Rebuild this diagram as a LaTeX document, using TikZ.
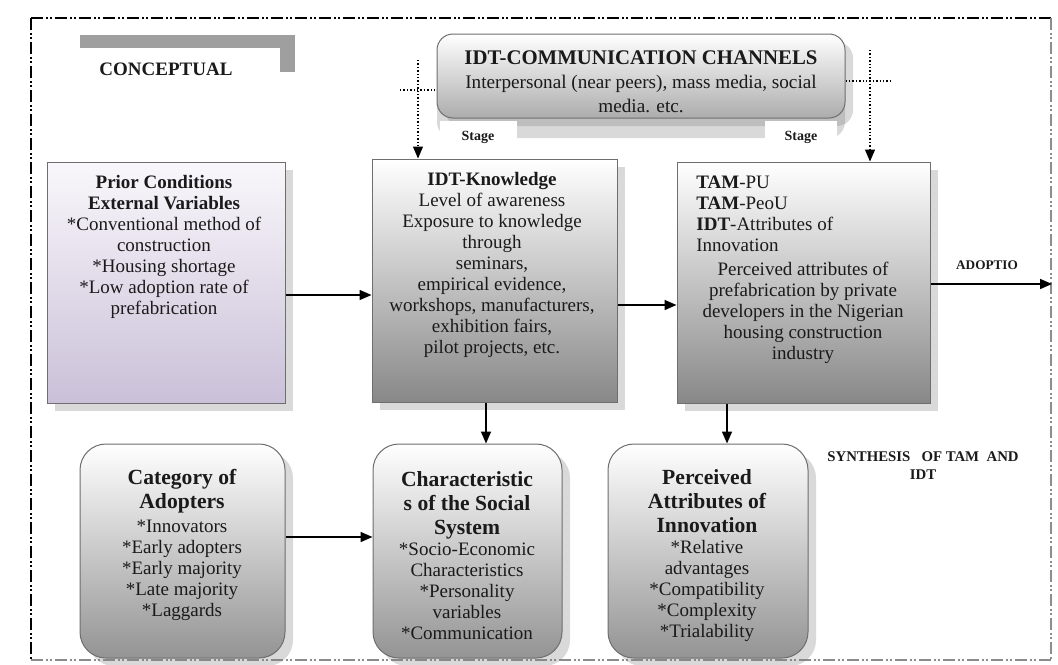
\documentclass[tikz,border=0pt]{standalone}
\usepackage{fontspec}
\setmainfont{Liberation Serif}
\usetikzlibrary{arrows.meta,positioning,shadows,calc}
\definecolor{boxgrey}{RGB}{136,136,136}
\definecolor{rimgrey}{RGB}{110,110,110}
\definecolor{lilac}{RGB}{202,192,216}
\definecolor{lilactop}{RGB}{249,247,251}
\definecolor{inkblack}{RGB}{26,26,26}
\definecolor{framegrey}{RGB}{140,140,140}

\tikzset{
  flatbox/.style={draw=rimgrey, line width=0.5pt, top color=white, bottom color=boxgrey,
    inner sep=0pt, drop shadow={shadow xshift=4pt, shadow yshift=-4pt, opacity=0.3}},
  roundbox/.style={flatbox, rounded corners=13pt, bottom color=boxgrey!90},
  boxtext/.style={align=center, inner sep=0pt, text=inkblack, font=\fontsize{9.5}{10.5}\selectfont},
  smalllbl/.style={inner sep=0pt, text=inkblack, font=\fontsize{7}{9}\selectfont\bfseries},
  arr/.style={->, line width=0.8pt, black},
  dotline/.style={line width=0.7pt, densely dotted, black},
  frameline/.style={line width=0.9pt, dash pattern=on 6pt off 1.5pt on 1pt off 1pt on 1pt off 1.5pt}
}

\begin{document}
\begin{tikzpicture}[x=0.5pt,y=-0.5pt,>={Triangle[length=6pt,width=5pt]}]
  \useasboundingbox (0,0) rectangle (1058,664);
  % Frame
  \draw[frameline] (31,18) -- (1051,18);
  \draw[frameline] (31,18) -- (31,660);
  \draw[frameline,draw=framegrey] (1051,18) -- (1051,660);
  \draw[frameline,draw=framegrey] (31,660) -- (1051,660);

  % Title tab
  \fill[gray!75] (80,35) rectangle (295,72);
  \node[fill=white, minimum width=107.5pt, minimum height=18.5pt, inner sep=0pt,
        font=\fontsize{9.5}{11}\selectfont\bfseries, text=inkblack] (concept) at (172.5,66.5) {};
  \node[font=\fontsize{9.5}{11}\selectfont\bfseries, text=inkblack, inner sep=0pt] (concepttxt) at (166,69) {CONCEPTUAL};

  % Communication channels
  \node[flatbox, rounded corners=8pt, bottom color=gray!65,
        drop shadow={shadow xshift=0pt, shadow yshift=-10pt, opacity=0.3},
        minimum width=204pt, minimum height=42pt] (comm) at (641,76) {};
  \node[boxtext, anchor=north, font=\fontsize{9.6}{12}\selectfont] (commtxt) at (641,50)
    {\fontsize{10.4}{12}\selectfont\bfseries IDT-COMMUNICATION CHANNELS\\
     Interpersonal (near peers), mass media, social\\ media. etc.};
  \node[smalllbl, fill=white, minimum width=38.5pt, minimum height=16pt] (stageL) at (478,137) {Stage};
  \node[smalllbl, fill=white, minimum width=36pt, minimum height=16pt] (stageR) at (801,137) {Stage};

  % Top row
  \node[flatbox, top color=lilactop, bottom color=lilac,
        minimum width=119pt, minimum height=120.5pt] (prior) at (166,282.5) {};
  \node[boxtext, anchor=north] (priortxt) at (164,175)
    {\bfseries Prior Conditions\\ \bfseries External Variables\\ *Conventional method of\\
     construction\\ *Housing shortage\\ *Low adoption rate of\\ prefabrication};

  \node[flatbox, minimum width=122.5pt, minimum height=121.5pt] (know) at (494.5,280.5) {};
  \node[boxtext, anchor=north] (knowtxt) at (492,172)
    {\bfseries IDT-Knowledge\\ Level of awareness\\ Exposure to knowledge\\ through\\ seminars,\\
     empirical evidence,\\ workshops, manufacturers,\\ exhibition fairs,\\ pilot projects, etc.};

  \node[flatbox, minimum width=126.5pt, minimum height=120.5pt] (tam) at (803.5,282.5) {};
  \node[boxtext, align=left, anchor=north west] (tamhead) at (696,176)
    {\textbf{TAM}-PU\\ \textbf{TAM}-PeoU\\ \textbf{IDT}-Attributes of\\ Innovation};
  \node[boxtext, anchor=north] (tamtxt) at (803,262)
    {Perceived attributes of\\ prefabrication by private\\ developers in the Nigerian\\
     housing construction\\ industry};

  \node[smalllbl, font=\fontsize{6.6}{8}\selectfont\bfseries] (adoptlbl) at (987,265) {ADOPTIO};
  \coordinate (adopt) at (1052,284);

  % Bottom row
  \node[roundbox, minimum width=102.5pt, minimum height=107pt] (cat) at (182.5,551) {};
  \node[boxtext, anchor=north] (cattxt) at (182,469)
    {\fontsize{10.8}{12}\selectfont\bfseries Category of\\[1.5pt]
     \fontsize{10.8}{12}\selectfont\bfseries Adopters\\[1.5pt]
     *Innovators\\ *Early adopters\\ *Early majority\\ *Late majority\\ *Laggards};

  \node[roundbox, minimum width=94.5pt, minimum height=107pt] (soc) at (467.5,551) {};
  \node[boxtext, anchor=north] (soctxt) at (467,471)
    {\fontsize{10.8}{12}\selectfont\bfseries Characteristic\\[1.5pt]
     \fontsize{10.8}{12}\selectfont\bfseries s of the Social\\[1.5pt]
     \fontsize{10.8}{12}\selectfont\bfseries System\\
     *Socio-Economic\\ Characteristics\\ *Personality\\ variables\\ *Communication};

  \node[roundbox, minimum width=100pt, minimum height=107pt] (perc) at (708,551) {};
  \node[boxtext, anchor=north] (perctxt) at (707,469)
    {\fontsize{10.8}{12}\selectfont\bfseries Perceived\\[1.5pt]
     \fontsize{10.8}{12}\selectfont\bfseries Attributes of\\[1.5pt]
     \fontsize{10.8}{12}\selectfont\bfseries Innovation\\
     *Relative\\ advantages\\ *Compatibility\\ *Complexity\\ *Trialability};

  \node[smalllbl, align=center, font=\fontsize{7.4}{9}\selectfont\bfseries] (synth) at (923,466)
    {SYNTHESIS\ \ \ OF TAM\ \ AND\\ IDT};

  % Arrows
  \draw[arr] ([yshift=-6.25pt]prior.east) -- ([yshift=-6.25pt]prior.east -| know.west);
  \draw[arr] ([yshift=-12.25pt]know.east) -- ([yshift=-12.25pt]know.east -| tam.west);
  \draw[arr] (tam.east |- adopt) -- (adopt);
  \draw[arr] ([xshift=-4.25pt]know.south) -- ([xshift=-4.25pt]know.south |- soc.north);
  \draw[arr] ([xshift=-38.25pt]tam.south) -- ([xshift=-38.25pt]tam.south |- perc.north);
  \draw[arr] ([yshift=7pt]cat.east) -- ([yshift=7pt]cat.east -| soc.west);

  % Dotted feeds from the channels
  \coordinate (feedL) at (418,60);
  \coordinate (feedR) at (870,50);
  \coordinate (tickL) at (400,90);
  \coordinate (tickR) at (893,81);
  \draw[dotline] (feedL) -- (feedL |- know.north);
  \draw[arr, line width=0.6pt] ([yshift=5pt]feedL |- know.north) -- (feedL |- know.north);
  \draw[dotline] (feedR) -- (feedR |- tam.north);
  \draw[arr, line width=0.6pt] ([yshift=5pt]feedR |- tam.north) -- (feedR |- tam.north);
  \draw[dotline] (tickL) -- (tickL -| comm.west);
  \draw[dotline] (tickR -| comm.east) -- (tickR);
\end{tikzpicture}
\end{document}
